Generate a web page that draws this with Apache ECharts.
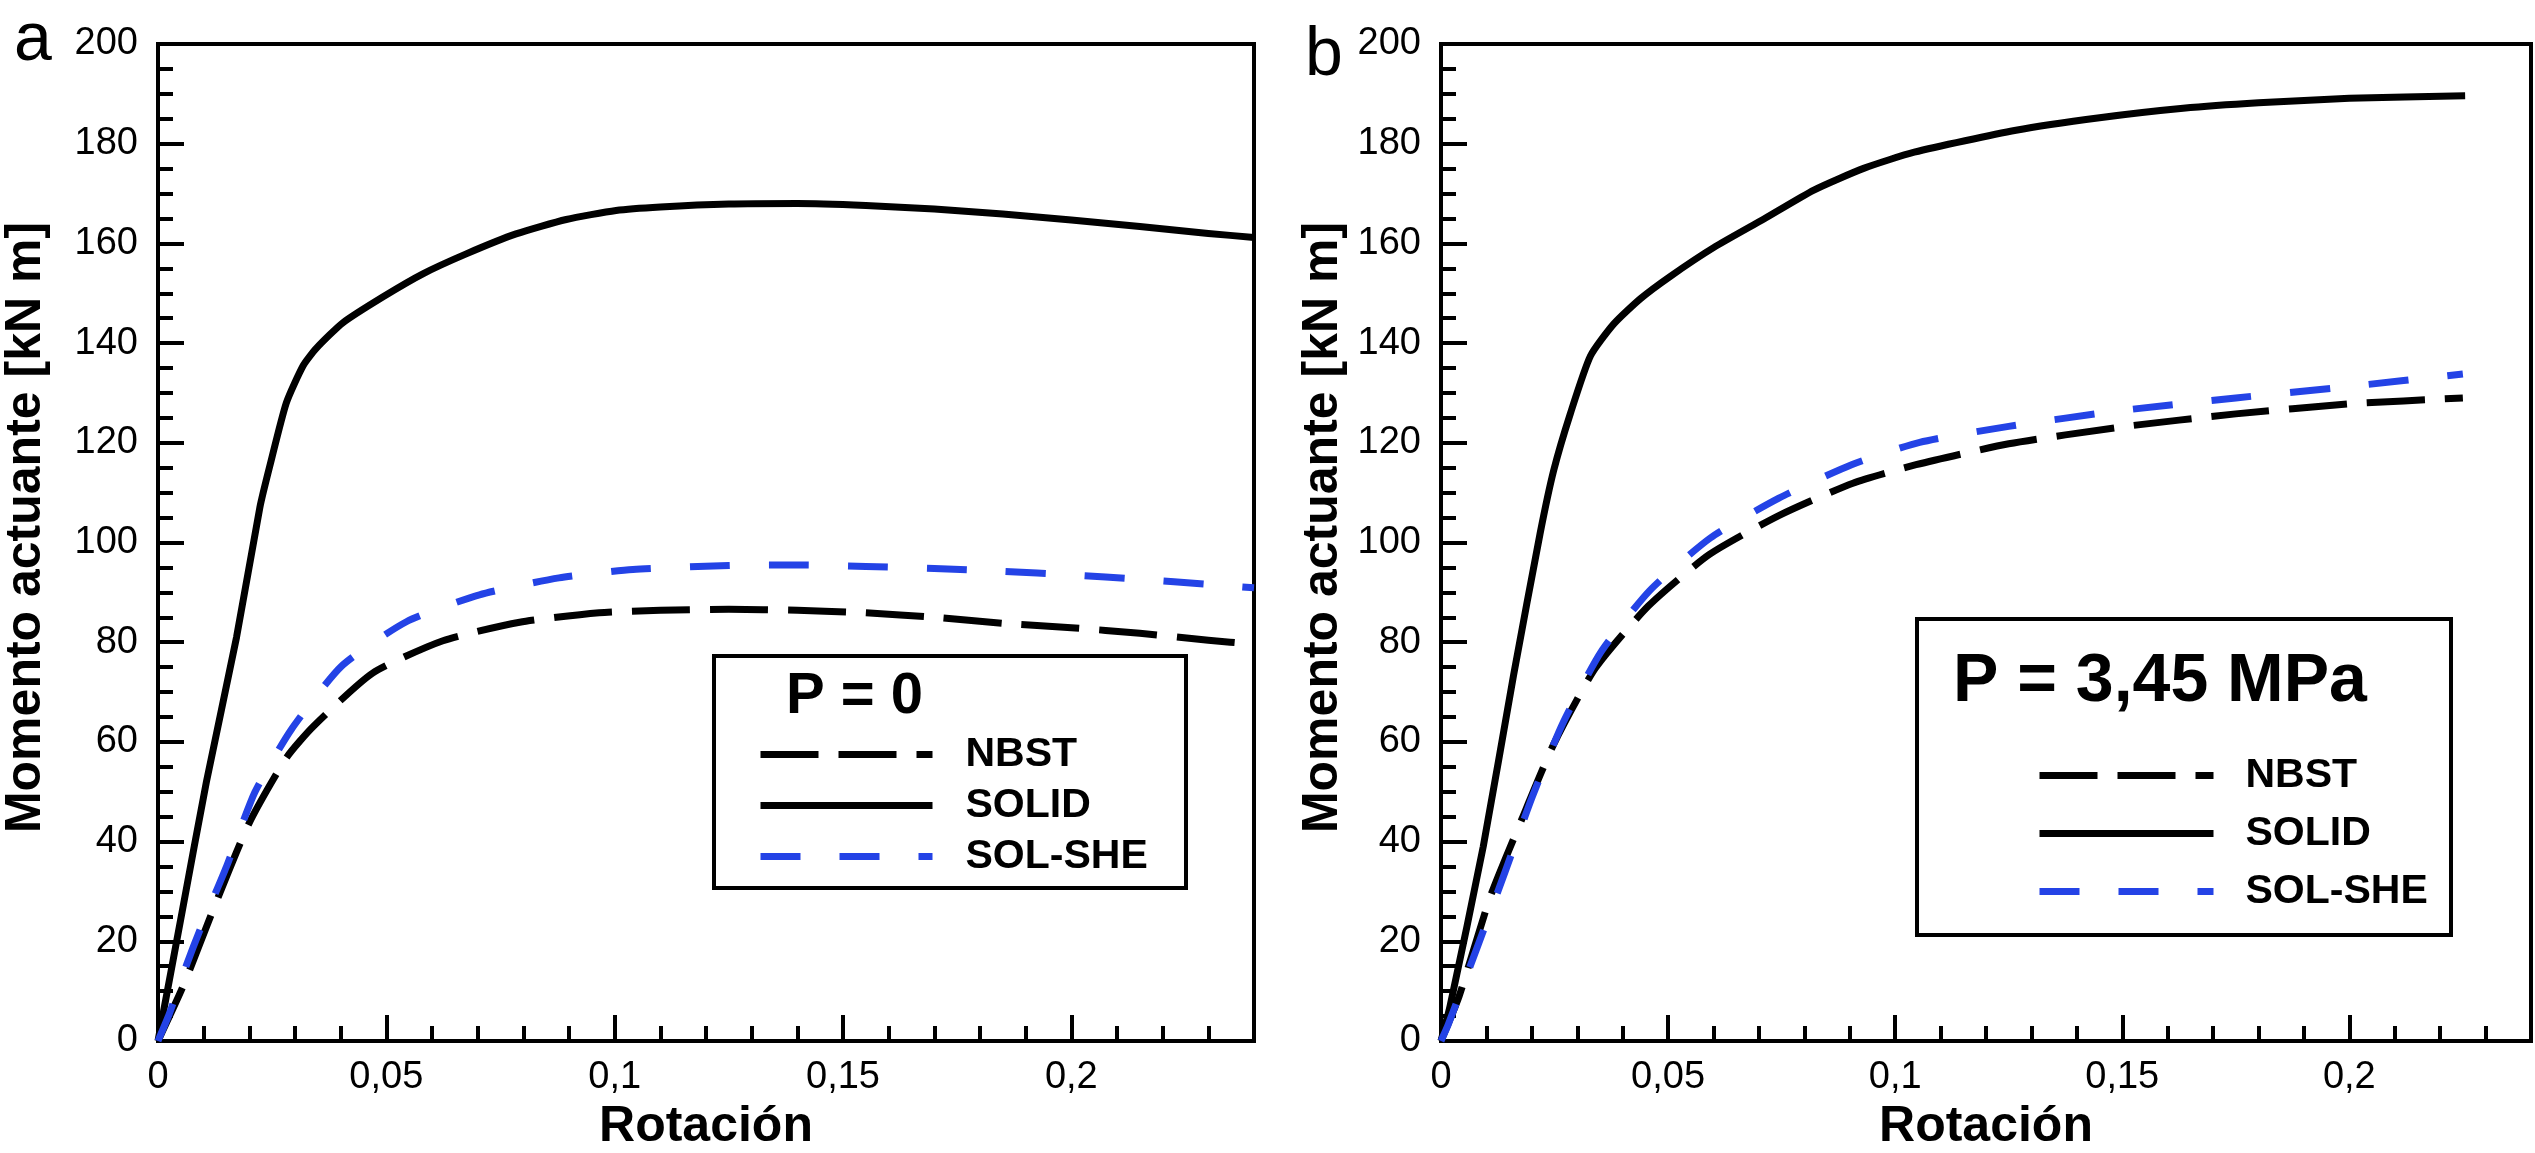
<!DOCTYPE html>
<html>
<head>
<meta charset="utf-8">
<script src="https://cdn.jsdelivr.net/npm/echarts@6/dist/echarts.min.js"></script>
<style>
html,body{margin:0;padding:0;background:#fff;}
#chart{width:2535px;height:1153px;}
</style>
</head>
<body>
<div id="chart"></div>
<script>
// ---------- DATA ----------
// Panel a : P = 0
const rotNbstA  = [0, 0.0055, 0.0128, 0.0199, 0.0281, 0.034, 0.047, 0.0624, 0.0792, 0.0966, 0.11, 0.125, 0.14, 0.155, 0.17, 0.185, 0.2, 0.215, 0.23, 0.24];
const momNbstA  = [0, 11, 28, 43.6, 56.8, 63.1, 73.8, 80.3, 84, 85.9, 86.4, 86.6, 86.4, 85.9, 85, 83.8, 82.9, 81.8, 80.4, 79.6];
const rotSolidA = [0, 0.0053, 0.0106, 0.0172, 0.0223, 0.0245, 0.0281, 0.0318, 0.0347, 0.0405, 0.0493, 0.058, 0.0675, 0.0784, 0.0894, 0.1003, 0.11, 0.125, 0.14, 0.155, 0.17, 0.185, 0.2, 0.215, 0.23, 0.24];
const momSolidA = [0, 26, 52, 81, 107, 115.4, 128, 135.5, 139, 144.1, 149.3, 153.9, 157.9, 161.9, 164.8, 166.6, 167.3, 167.9, 168, 167.6, 166.9, 165.9, 164.7, 163.4, 162, 161.2];
const rotSheA   = [0, 0.0025, 0.0063, 0.0092, 0.015, 0.0212, 0.0292, 0.0402, 0.0544, 0.0704, 0.0878, 0.104, 0.125, 0.14, 0.155, 0.17, 0.185, 0.2, 0.215, 0.23, 0.24];
const momSheA   = [0, 5.5, 15.4, 22.3, 35, 49.9, 62.5, 75.2, 84.1, 89.5, 92.9, 94.6, 95.4, 95.5, 95.2, 94.8, 94.2, 93.5, 92.6, 91.6, 90.9];

// Panel b : P = 3,45 MPa
const rotNbstB  = [0, 0.004, 0.0108, 0.0178, 0.0248, 0.034, 0.0457, 0.0591, 0.0746, 0.0907, 0.1046, 0.125, 0.15, 0.175, 0.2, 0.225];
const momNbstB  = [0, 9, 28.8, 44.5, 59.5, 74.8, 87.3, 97.6, 105.5, 111.9, 115.6, 119.8, 123.2, 125.8, 127.8, 129];
const rotSolidB = [0, 0.002, 0.0093, 0.016, 0.0218, 0.0248, 0.0285, 0.0329, 0.038, 0.0439, 0.0505, 0.0601, 0.0711, 0.0821, 0.0932, 0.1042, 0.1266, 0.145, 0.1634, 0.18, 0.2, 0.2255];
const momSolidB = [0, 7, 39, 73.5, 101.7, 114.4, 125.9, 137.4, 143.8, 148.9, 153.4, 159.2, 164.9, 170.7, 175.1, 178.3, 182.7, 185.2, 187.1, 188.2, 189.1, 189.6];
const rotSheB   = [0, 0.0016, 0.0079, 0.0141, 0.0201, 0.0268, 0.0352, 0.0459, 0.0593, 0.0744, 0.0904, 0.1054, 0.125, 0.15, 0.175, 0.2, 0.225];
const momSheB   = [0, 3.3, 18.6, 33.9, 49, 63.7, 78, 90.3, 100.9, 108.9, 115.6, 120.1, 123.3, 126.5, 129, 131.3, 133.8];

const seriesNames = ['NBST', 'SOLID', 'SOL-SHE'];
const panelTitles = ['P = 0', 'P = 3,45 MPa'];
const panelLetters = ['a', 'b'];
const xName = 'Rotación';
const yName = 'Momento actuante [kN m]';

// ---------- STYLE ----------
const FONT = "'Liberation Sans', Arial, Helvetica, sans-serif";
const BLUE = '#2443E6';
const zip = (xs, ys) => xs.map((x, i) => [x, ys[i]]);

const grids = [
  { left: 158, top: 44, width: 1096, height: 997 },
  { left: 1441, top: 44, width: 1090, height: 997 }
];

function xAxisMajor(gi) {
  return {
    gridIndex: gi, type: 'value', position: 'bottom', min: 0, max: 0.24, interval: 0.05,
    name: xName, nameLocation: 'middle', nameGap: 59,
    nameTextStyle: { fontFamily: FONT, fontSize: 50, fontWeight: 'bold', color: '#000' },
    axisLine: { show: true, onZero: false, lineStyle: { color: '#000', width: 4 } },
    axisTick: { show: true, inside: true, length: 26, lineStyle: { color: '#000', width: 4 } },
    axisLabel: {
      show: true, margin: 18, fontFamily: FONT, fontSize: 38, color: '#000', showMaxLabel: false,
      formatter: v => (Math.abs(v - 0.24) < 1e-9 ? '' : String(Math.round(v * 100) / 100).replace('.', ','))
    },
    splitLine: { show: false }
  };
}
function xAxisMinor(gi) {
  return {
    gridIndex: gi, type: 'value', position: 'bottom', min: 0, max: 0.24, interval: 0.01,
    axisLine: { show: false },
    axisTick: { show: true, inside: true, length: 15, lineStyle: { color: '#000', width: 4 } },
    axisLabel: { show: false },
    splitLine: { show: false }
  };
}
function yAxis(gi, gap) {
  return {
    gridIndex: gi, type: 'value', position: 'left', min: 0, max: 200, interval: 20,
    name: yName, nameLocation: 'middle', nameGap: gap, nameRotate: 90,
    nameTextStyle: { fontFamily: FONT, fontSize: 50, fontWeight: 'bold', color: '#000', padding: [0, 0, 0, 30] },
    axisLine: { show: true, onZero: false, lineStyle: { color: '#000', width: 4 } },
    axisTick: { show: true, inside: true, length: 26, lineStyle: { color: '#000', width: 4 } },
    minorTick: { show: true, splitNumber: 4, length: 15, lineStyle: { color: '#000', width: 4 } },
    axisLabel: { show: true, margin: 20, fontFamily: FONT, fontSize: 38, color: '#000' },
    splitLine: { show: false },
    minorSplitLine: { show: false }
  };
}

function lineSeries(name, data, xi, yi, color, type) {
  return {
    name: name, type: 'line', xAxisIndex: xi, yAxisIndex: yi, data: data,
    showSymbol: false, symbol: 'none', smooth: 0.2,
    lineStyle: { color: color, width: 7, type: type, cap: 'butt', join: 'round' },
    itemStyle: { color: color },
    animation: false
  };
}

const series = [
  lineSeries(seriesNames[0], zip(rotNbstA, momNbstA), 0, 0, '#000', [58, 20]),
  lineSeries(seriesNames[1], zip(rotSolidA, momSolidA), 0, 0, '#000', 'solid'),
  lineSeries(seriesNames[2], zip(rotSheA, momSheA), 0, 0, BLUE, [40, 39]),
  lineSeries(seriesNames[0], zip(rotNbstB, momNbstB), 2, 1, '#000', [58, 20]),
  lineSeries(seriesNames[1], zip(rotSolidB, momSolidB), 2, 1, '#000', 'solid'),
  lineSeries(seriesNames[2], zip(rotSheB, momSheB), 2, 1, BLUE, [40, 39])
];

function legend(left, top, itemWidth, itemGap, textPad) {
  return {
    data: seriesNames, orient: 'vertical', left: left, top: top,
    itemWidth: itemWidth, itemHeight: 40, itemGap: itemGap, padding: 0,
    selectedMode: false,
    lineStyle: { width: 7 },
    itemStyle: { opacity: 0, color: 'rgba(0,0,0,0)', borderWidth: 0 },
    textStyle: { fontFamily: FONT, fontSize: 41, fontWeight: 'bold', color: '#000', padding: [0, 0, 0, textPad] }
  };
}

const textStyleG = (txt, size, weight) => ({
  text: txt, fill: '#000', font: weight + ' ' + size + 'px ' + FONT,
  textAlign: 'left', textVerticalAlign: 'middle', align: 'left', verticalAlign: 'middle'
});

const option = {
  backgroundColor: '#fff',
  animation: false,
  grid: grids.map(g => Object.assign({
    show: true, borderColor: '#000', borderWidth: 4, backgroundColor: 'transparent',
    containLabel: false, outerBoundsMode: 'none'
  }, g)),
  xAxis: [xAxisMajor(0), xAxisMinor(0), xAxisMajor(1), xAxisMinor(1)],
  yAxis: [yAxis(0, 107), yAxis(1, 93)],
  legend: [
    legend(757, 734, 172, 10, 28),
    legend(2036, 755, 174, 17, 27)
  ],
  series: series,
  graphic: [
    { type: 'rect', shape: { x: 714, y: 656, width: 472, height: 232 },
      style: { fill: 'transparent', stroke: '#000', lineWidth: 4 }, z: 1 },
    { type: 'rect', shape: { x: 1917, y: 619, width: 534, height: 316 },
      style: { fill: 'transparent', stroke: '#000', lineWidth: 4 }, z: 1 },
    { type: 'text', x: 786, y: 697, style: textStyleG(panelTitles[0], 58, 'bold'), z: 5 },
    { type: 'text', x: 1953, y: 682, style: textStyleG(panelTitles[1], 68, 'bold'), z: 5 },
    { type: 'text', x: 14, y: 41, style: textStyleG(panelLetters[0], 68, 'normal'), z: 5 },
    { type: 'text', x: 1305, y: 56, style: textStyleG(panelLetters[1], 68, 'normal'), z: 5 }
  ]
};

const chart = echarts.init(document.getElementById('chart'), null, { renderer: 'canvas' });
chart.setOption(option);
</script>
</body>
</html>
